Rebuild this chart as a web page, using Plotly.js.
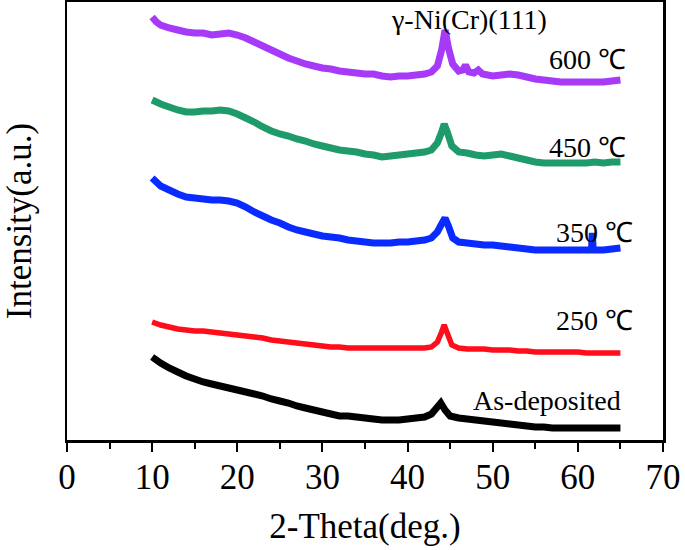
<!DOCTYPE html>
<html>
<head>
<meta charset="utf-8">
<script src="https://cdn.plot.ly/plotly-3.0.1.min.js"></script>
<style>html,body{margin:0;padding:0;background:#fff;}#chart{width:685px;height:550px;}</style>
</head>
<body>
<div id="chart"></div>
<script>
// 2-Theta (deg.) and intensity (a.u., curves offset)
const thetaPurple = [10,10.5,11,12,13,14,15,16,17,18,19,20,21,22,23,24,25,26,27,28,29,30,31,32,33,34,35,36,37,38,39,40,41,42,42.8,43.5,44.0,44.4,44.8,45.3,46,46.5,46.8,47.2,47.8,48.3,48.8,50,51,52,53,54,55,56,57,58,59,60,61,62,63,64,65];
const int600 = [423,418,415,412,410,408,407,407,405,406,407,405,402,398,394,390,386,382,379,376,374,372,371,369,368,367,366,366,364,363,364,364,365,366,368,374,390,410,392,376,369,370,375,368,367,370,366,364,365,366,365,363,361,360,359,358,358,358,358,358,358,359,360];

const thetaGreen = [10,11,12,13,14,15,16,17,18,19,20,21,22,23,24,25,26,27,28,29,30,31,32,33,34,35,36,37,38,39,40,41,42,42.8,43.5,44.0,44.3,44.7,45.2,46,47,48,49,50,51,52,53,54,55,56,57,58,59,60,61,62,63,64,65];
const int450 = [340,336,333,330,328,328,329,329,330,329,326,322,318,313,309,306,304,301,299,296,294,292,290,289,288,286,285,283,284,285,286,287,288,290,297,308,316,307,294,288,287,285,284,285,286,284,282,280,278,277,277,277,277,277,277,278,277,278,278];

const thetaBlue = [10,11,12,13,14,15,16,17,18,19,20,21,22,23,24,25,26,27,28,29,30,31,32,33,34,35,36,37,38,39,40,41,42,42.8,43.5,44.0,44.4,44.8,45.3,46,47,48,49,50,51,52,53,54,55,56,57,58,59,60,61,61.6,61.7,61.8,62,63,64,65];
const int350 = [262,254,250,246,243,242,241,240,240,239,237,233,228,224,220,217,213,210,208,206,204,203,202,200,199,198,197,197,197,198,198,199,200,202,208,216,222,214,202,198,197,196,195,195,194,193,192,191,190,190,190,190,190,190,190,190,207,190,190,190,191,192];

const thetaRed = [10,11,12,13,14,15,16,17,18,19,20,21,22,23,24,25,26,27,28,29,30,31,32,33,34,35,36,37,38,39,40,41,42,42.8,43.5,44.0,44.3,44.7,45.2,46,47,48,49,50,51,52,53,54,55,56,57,58,59,60,61,62,63,64,65];
const int250 = [118,115,113,111,110,109,109,108,107,106,105,104,103,102,100,99,98,97,96,95,94,93,93,92,92,92,92,92,92,92,92,92,92,93,98,108,115,106,95,92,91,91,91,90,90,90,89,89,88,88,88,88,88,88,87,87,87,87,87];

const thetaBlack = [10,11,12,13,14,15,16,17,18,19,20,21,22,23,24,25,26,27,28,29,30,31,32,33,34,35,36,37,38,39,40,41,42,42.8,43.4,43.9,44.4,45.0,46,47,48,49,50,51,52,53,54,55,56,57,58,59,60,61,62,63,64,65];
const intAsDep = [83,77,72,68,64,61,58,56,54,52,50,48,46,44,41,39,37,34,32,30,28,26,24,24,23,22,21,20,20,20,21,22,23,26,32,37,30,24,22,21,20,19,18,17,16,15,14,13,13,12,12,12,12,12,12,12,12,12];

const seriesNames = ['600 ℃','450 ℃','350 ℃','250 ℃','As-deposited'];
const xTicks = [0,10,20,30,40,50,60,70];

const font = '"Liberation Serif", "Times New Roman", serif';
const mk = (x, y, name, color, w) => ({x: x, y: y, name: name, type: 'scatter', mode: 'lines',
  line: {color: color, width: w, simplify: false}, hoverinfo: 'skip'});

const traces = [
  mk(thetaBlack, intAsDep, seriesNames[4], '#000000', 7),
  mk(thetaRed, int250, seriesNames[3], '#FF0D1A', 5.5),
  mk(thetaBlue, int350, seriesNames[2], '#0A2BFF', 7),
  mk(thetaGreen, int450, seriesNames[1], '#1F9A6A', 7),
  mk(thetaPurple, int600, seriesNames[0], '#A63AF6', 7)
];

const ann = (x, y, text, xa) => ({x: x, y: y, xref: 'x', yref: 'y', text: text, showarrow: false,
  xanchor: xa, yanchor: 'middle', font: {family: font, size: 28, color: '#000'}});

const layout = {
  width: 685, height: 550,
  margin: {l: 67, r: 22, t: 2, b: 110},
  paper_bgcolor: '#fff', plot_bgcolor: '#fff',
  showlegend: false,
  font: {family: font, color: '#000'},
  xaxis: {
    range: [0, 70], tickvals: xTicks, ticktext: xTicks.map(String),
    ticks: 'outside', ticklen: 9, tickwidth: 2, tickcolor: '#000',
    minor: {dtick: 5, tick0: 0, ticks: 'outside', ticklen: 6, tickwidth: 2, tickcolor: '#000'},
    showline: true, linewidth: 2.5, linecolor: '#000', mirror: true,
    showgrid: false, zeroline: false,
    ticklabelstandoff: -5,
    tickfont: {family: font, size: 35, color: '#000'},
    title: {text: '2-Theta(deg.)', font: {family: font, size: 35, color: '#000'}, standoff: 18}
  },
  yaxis: {
    range: [0, 438], showticklabels: false, ticks: '',
    showline: true, linewidth: 2.5, linecolor: '#000', mirror: true,
    showgrid: false, zeroline: false,
    title: {text: 'Intensity(a.u.)', font: {family: font, size: 35, color: '#000'}, standoff: 28}
  },
  annotations: [
    ann(47.2, 421, 'γ-Ni(Cr)(111)', 'center'),
    ann(65.9, 381, seriesNames[0], 'right'),
    ann(65.9, 293, seriesNames[1], 'right'),
    ann(66.7, 208, seriesNames[2], 'right'),
    ann(66.7, 120, seriesNames[3], 'right'),
    ann(65.3, 40, seriesNames[4], 'right')
  ]
};

Plotly.newPlot('chart', traces, layout, {staticPlot: true, displayModeBar: false});
</script>
</body>
</html>
